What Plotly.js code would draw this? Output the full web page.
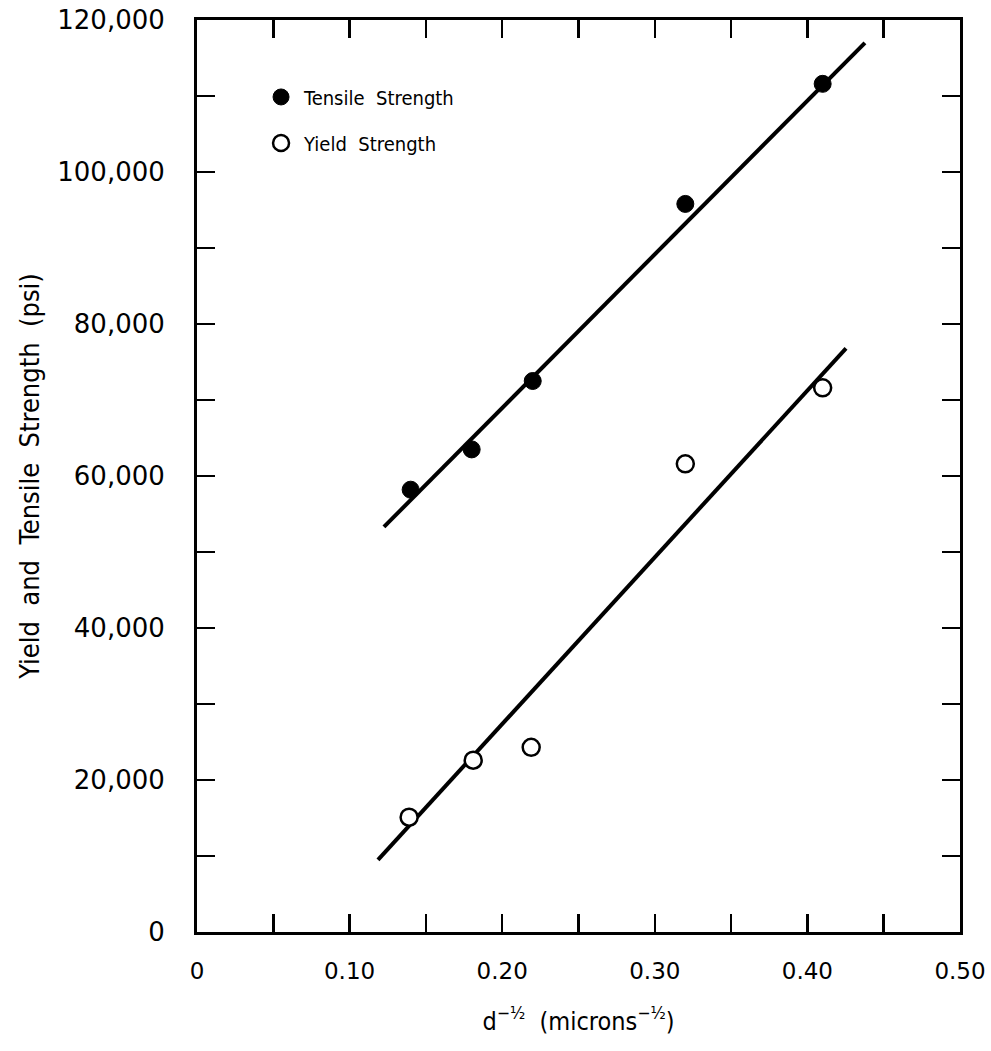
<!DOCTYPE html>
<html>
<head>
<meta charset="utf-8">
<script src="https://cdn.plot.ly/plotly-3.0.1.min.js"></script>
<style>html,body{margin:0;padding:0;background:#fff;}#chart{width:991px;height:1051px;}</style>
</head>
<body>
<div id="chart"></div>
<script>
// Data
const tensileX = [0.14, 0.18, 0.22, 0.32, 0.41];
const tensileY = [58200, 63500, 72500, 95800, 111600];
const yieldX = [0.139, 0.181, 0.219, 0.32, 0.41];
const yieldY = [15100, 22600, 24300, 61600, 71600];
// Fitted lines (end points)
const tensileFitX = [0.1225, 0.4377];
const tensileFitY = [53300, 117000];
const yieldFitX = [0.1186, 0.4253];
const yieldFitY = [9500, 76800];
// Ticks
const xTickVals = [0, 0.10, 0.20, 0.30, 0.40, 0.50];
const xTickText = ['0', '0.10', '0.20', '0.30', '0.40', '0.50'];
const xMinorVals = [0.05, 0.15, 0.25, 0.35, 0.45];
const yTickVals = [0, 20000, 40000, 60000, 80000, 100000, 120000];
const yTickText = ['0', '20,000', '40,000', '60,000', '80,000', '100,000', '120,000'];
const yMinorVals = [10000, 30000, 50000, 70000, 90000, 110000];

const condensed = 'DejaVu Sans Condensed, Liberation Sans Narrow, sans-serif';

const traces = [
  {x: tensileFitX, y: tensileFitY, mode: 'lines', line: {color: '#000', width: 4}, showlegend: false, hoverinfo: 'skip'},
  {x: yieldFitX, y: yieldFitY, mode: 'lines', line: {color: '#000', width: 4}, showlegend: false, hoverinfo: 'skip'},
  {x: tensileX, y: tensileY, mode: 'markers', name: 'Tensile&nbsp; Strength', legendgroup: 'a',
   marker: {symbol: 'circle', size: 17, color: '#000', line: {color: '#000', width: 1}}},
  {x: yieldX, y: yieldY, mode: 'markers', name: 'Yield&nbsp; Strength', legendgroup: 'b',
   marker: {symbol: 'circle', size: 17, color: '#fff', line: {color: '#000', width: 2.5}}}
];

const tickStyle = {ticks: 'inside', ticklen: 18, tickwidth: 2.5, tickcolor: '#000'};

const layout = {
  width: 991, height: 1051,
  margin: {l: 197, r: 31, t: 20, b: 119},
  paper_bgcolor: '#fff', plot_bgcolor: '#fff',
  showlegend: true,
  legend: {x: 0.08, y: 0.937, xanchor: 'left', yanchor: 'top', bgcolor: 'rgba(0,0,0,0)',
           font: {family: condensed, size: 20, color: '#000'},
           traceorder: 'grouped', tracegroupgap: 17, itemwidth: 36},
  xaxis: Object.assign({
    range: [0, 0.5], tickvals: xTickVals, ticktext: xTickText,
    minor: Object.assign({tickvals: xMinorVals}, tickStyle),
    showline: true, linecolor: '#000', linewidth: 3, mirror: 'ticks',
    showgrid: false, zeroline: false,
    tickfont: {family: 'DejaVu Sans, sans-serif', size: 23, color: '#000'}, ticklabelstandoff: 16,
    title: {text: 'd<sup>−½</sup>&nbsp; (microns<sup>−½</sup>)', font: {family: condensed, size: 25, color: '#000'}, standoff: 30}
  }, tickStyle),
  yaxis: Object.assign({
    range: [0, 120000], tickvals: yTickVals, ticktext: yTickText,
    minor: Object.assign({tickvals: yMinorVals}, tickStyle),
    showline: true, linecolor: '#000', linewidth: 3, mirror: 'ticks',
    showgrid: false, zeroline: false,
    tickfont: {family: 'DejaVu Sans, sans-serif', size: 26, color: '#000'}, ticklabelstandoff: 24,
    title: {text: 'Yield&nbsp; and&nbsp; Tensile&nbsp; Strength&nbsp; (psi)', font: {family: condensed, size: 27, color: '#000'}, standoff: 10}
  }, tickStyle)
};

Plotly.newPlot('chart', traces, layout, {displayModeBar: false, staticPlot: true});
</script>
</body>
</html>
